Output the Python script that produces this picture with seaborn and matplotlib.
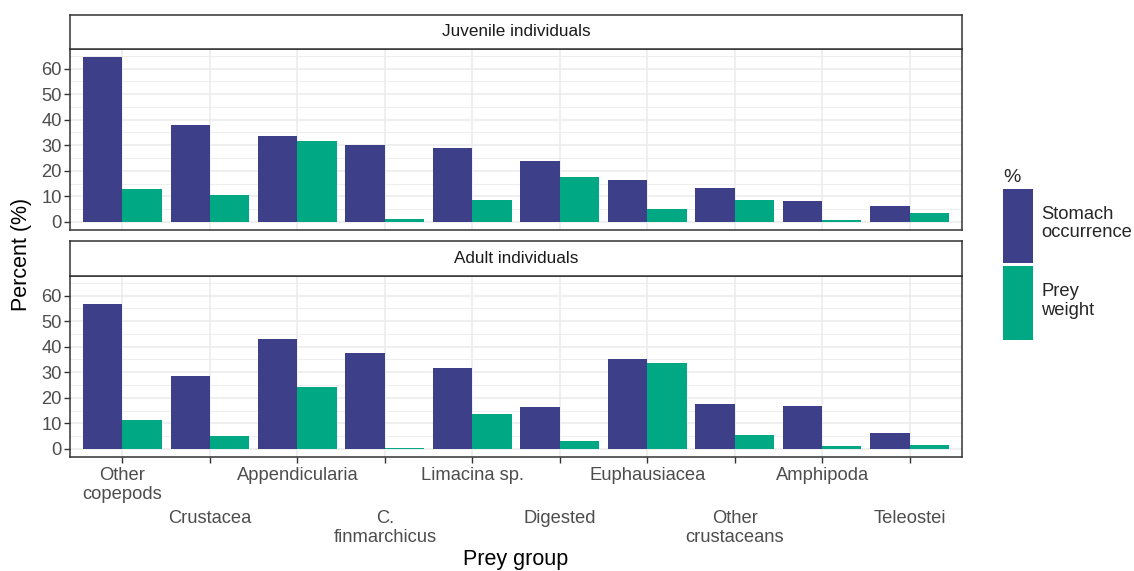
import numpy as np
import pandas as pd
import seaborn as sns
import matplotlib
matplotlib.use("Agg")
import matplotlib.pyplot as plt
from matplotlib.patches import Patch

# Prey groups in plotting order
prey_groups = ["Other\ncopepods", "Crustacea", "Appendicularia", "C.\nfinmarchicus",
               "Limacina sp.", "Digested", "Euphausiacea", "Other\ncrustaceans",
               "Amphipoda", "Teleostei"]

# Juvenile individuals (%)
juv_occurrence = [64.5, 37.8, 33.7, 30.2, 28.9, 24.0, 16.5, 13.1, 8.2, 6.3]
juv_weight = [12.9, 10.7, 31.5, 1.2, 8.7, 17.5, 5.1, 8.4, 0.8, 3.4]

# Adult individuals (%)
adu_occurrence = [56.9, 28.4, 43.2, 37.7, 31.6, 16.2, 35.3, 17.6, 16.8, 6.1]
adu_weight = [11.4, 5.2, 24.3, 0.3, 13.8, 3.1, 33.7, 5.5, 1.3, 1.5]

measures = ["Stomach\noccurrence", "Prey\nweight"]
panels = ["Juvenile individuals", "Adult individuals"]
colors = ["#3d4089", "#00a884"]

def long_frame(occ, wt):
    return pd.DataFrame({
        "prey": prey_groups * 2,
        "measure": [measures[0]] * len(prey_groups) + [measures[1]] * len(prey_groups),
        "value": list(occ) + list(wt),
    })

frames = [long_frame(juv_occurrence, juv_weight), long_frame(adu_occurrence, adu_weight)]

sns.set_theme(style="white")
plt.rcParams["font.family"] = ["Liberation Sans", "DejaVu Sans"]

W, H = 1134, 571
fig = plt.figure(figsize=(W / 100, H / 100), dpi=100)

def fx(px):
    return px / W

def fy(py):
    return 1 - py / H

TICK_FS = 13.2
left, right = 70, 962
layout = [  # (strip_top, strip_bottom, panel_bottom)
    (15, 49, 230),
    (241, 276, 457),
]

grey20 = "#333333"
axes = []
for i, (st, sb, pb) in enumerate(layout):
    ax = fig.add_axes([fx(left), fy(pb), fx(right - left), (pb - sb) / H])
    sax = fig.add_axes([fx(left), fy(sb), fx(right - left), (sb - st) / H])
    sax.set_xticks([]); sax.set_yticks([])
    sax.set_facecolor("white")
    for s in sax.spines.values():
        s.set_color(grey20); s.set_linewidth(1.1)
    sax.text(0.5, 0.5, panels[i], ha="center", va="center", fontsize=12.3,
             color="#1a1a1a", transform=sax.transAxes)

    sns.barplot(data=frames[i], x="prey", y="value", hue="measure",
                hue_order=measures, palette=colors, width=0.9, gap=0,
                linewidth=0, saturation=1, ax=ax, legend=False, zorder=3)

    ax.set_xlim(-0.6, len(prey_groups) - 0.4)
    ax.set_ylim(-3.2, 67.7)
    ax.set_yticks(np.arange(0, 61, 10))
    ax.set_yticks(np.arange(5, 66, 10), minor=True)
    ax.grid(True, which="major", color="#ebebeb", linewidth=1.1, zorder=0)
    ax.grid(True, which="minor", axis="y", color="#ebebeb", linewidth=0.6, zorder=0)
    ax.set_axisbelow(True)
    for s in ax.spines.values():
        s.set_color(grey20); s.set_linewidth(1.1)
    ax.set_xlabel(""); ax.set_ylabel("")
    ax.tick_params(axis="y", which="major", length=4, width=1, color=grey20,
                   labelsize=TICK_FS, labelcolor="#4d4d4d", pad=2, left=True)
    ax.tick_params(axis="y", which="minor", length=0)
    if i == 0:
        ax.tick_params(axis="x", length=0, labelbottom=False)
    else:
        ax.tick_params(axis="x", length=4, width=1, color=grey20, bottom=True,
                       labelbottom=False)
        # staggered category labels in two rows
        for j, lab in enumerate(prey_groups):
            off = -10 if j % 2 == 0 else -53
            ax.annotate(lab, xy=(j, 0), xycoords=("data", "axes fraction"),
                        xytext=(0, off), textcoords="offset pixels",
                        ha="center", va="top", fontsize=TICK_FS, color="#4d4d4d",
                        linespacing=1.12, annotation_clip=False)
    axes.append(ax)

fig.text(fx(22), fy(254), "Percent (%)", rotation=90, ha="center", va="center",
         fontsize=15.5, color="black")
fig.text(fx(516), fy(560), "Prey group", ha="center", va="center",
         fontsize=15.5, color="black")

handles = [Patch(facecolor=c, edgecolor="none") for c in colors]
leg = fig.legend(handles, measures, title="%", loc="upper left",
                 bbox_to_anchor=(fx(994), fy(160)), frameon=False,
                 fontsize=TICK_FS, title_fontsize=14, handlelength=1.64,
                 handleheight=5.84, labelspacing=0.16, handletextpad=0.45,
                 borderpad=0, alignment="left")
for t in leg.get_texts():
    t.set_linespacing(1.12)

fig.savefig("out.png", dpi=100)
